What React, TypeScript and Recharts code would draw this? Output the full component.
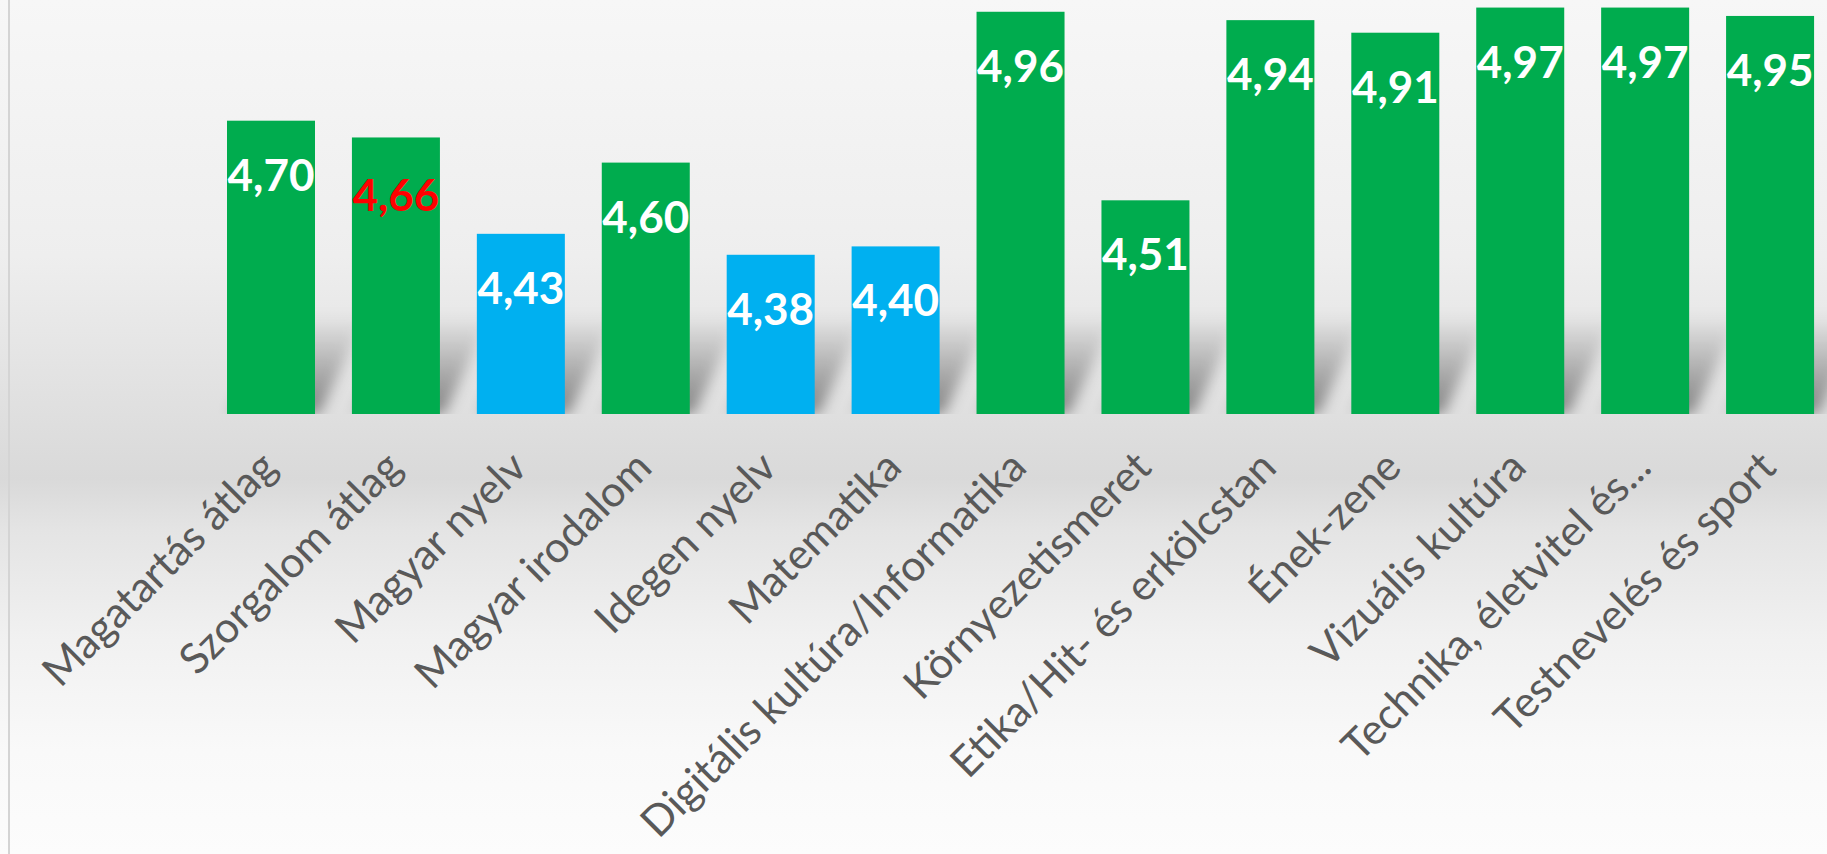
import React from "react";
import { BarChart, Bar, XAxis, YAxis, LabelList, Cell } from "recharts";

const subjects = [
  "Magatartás átlag",
  "Szorgalom átlag",
  "Magyar nyelv",
  "Magyar irodalom",
  "Idegen nyelv",
  "Matematika",
  "Digitális kultúra/Informatika",
  "Környezetismeret",
  "Etika/Hit- és erkölcstan",
  "Ének-zene",
  "Vizuális kultúra",
  "Technika, életvitel és...",
  "Testnevelés és sport",
];

const averages = [4.7, 4.66, 4.43, 4.6, 4.38, 4.4, 4.96, 4.51, 4.94, 4.91, 4.97, 4.97, 4.95];

// subjects drawn in blue, and the one whose label is red
const blueSubjects = ["Magyar nyelv", "Idegen nyelv", "Matematika"];
const redLabelSubject = "Szorgalom átlag";

const yDomain = [4, 5];

const GREEN = "#00AC4E";
const BLUE = "#00B0F0";

const data = subjects.map((name, i) => ({ name, value: averages[i] }));

const fmt = (v: number) => v.toFixed(2).replace(".", ",");

const ShadowBar = (props: any) => {
  const { x, y, width, height, fill, index } = props;
  const base = y + height;
  const sh = 100;
  const skew = 48;
  const gid = "shg" + index;
  const fid = "shf" + index;
  return (
    <g>
      <defs>
        <linearGradient id={gid} x1="0" y1="1" x2="0" y2="0">
          <stop offset="0%" stopColor="#000" stopOpacity={0.42} />
          <stop offset="100%" stopColor="#000" stopOpacity={0} />
        </linearGradient>
        <filter id={fid} x="-50%" y="-50%" width="200%" height="200%">
          <feGaussianBlur stdDeviation="7" />
        </filter>
      </defs>
      <polygon
        points={`${x + 4},${base} ${x + width + 4},${base} ${x + width + 4 + skew},${base - sh} ${x + 4 + skew},${base - sh}`}
        fill={`url(#${gid})`}
        filter={`url(#${fid})`}
      />
      <rect x={x} y={y} width={width} height={height} fill={fill} />
    </g>
  );
};

const ValueLabel = (props: any) => {
  const { x, y, width, value, index } = props;
  const red = subjects[index] === redLabelSubject;
  return (
    <text
      x={x + width / 2}
      y={y + (red ? 74 : 70)}
      textAnchor="middle"
      fill={red ? "#FF0000" : "#FFFFFF"}
      fontFamily="Lato"
      fontWeight={700}
      fontSize={44}
    >
      {fmt(value)}
    </text>
  );
};

const SubjectTick = (props: any) => {
  const { x, y, payload } = props;
  const ax = x - 4;
  const ay = y + 44;
  return (
    <text
      x={ax}
      y={ay}
      textAnchor="end"
      dominantBaseline="central"
      transform={`rotate(-45, ${ax}, ${ay})`}
      fill="#595959"
      fontFamily="Lato"
      fontSize={42.5}
    >
      {payload.value}
    </text>
  );
};

export default function App() {
  return (
    <div
      style={{
        position: "absolute",
        left: 0,
        top: 0,
        width: 1827,
        height: 854,
        overflow: "hidden",
        background:
          "linear-gradient(to bottom, #f7f7f7 0%, #eeeeee 30%, #d9d9d9 56%, #e4e4e4 62%, #f1f1f1 75%, #f9f9f9 88%, #fcfcfc 100%)",
      }}
    >
      <div
        style={{
          position: "absolute",
          left: 8,
          top: 0,
          width: 2,
          height: 854,
          background: "#d4d4d4",
        }}
      />
      <div style={{ position: "absolute", left: 0, top: -10 }}>
        <BarChart
          width={1840}
          height={870}
          data={data}
          margin={{ top: 5, right: 7, left: 209, bottom: 0 }}
          barSize={88}
        >
          <XAxis
            dataKey="name"
            axisLine={false}
            tickLine={false}
            tickSize={0}
            tickMargin={0}
            height={446}
            interval={0}
            tick={<SubjectTick />}
          />
          <YAxis hide domain={yDomain} allowDataOverflow />
          <Bar dataKey="value" isAnimationActive={false} shape={<ShadowBar />}>
            {data.map((d) => (
              <Cell key={d.name} fill={blueSubjects.includes(d.name) ? BLUE : GREEN} />
            ))}
            <LabelList dataKey="value" content={<ValueLabel />} />
          </Bar>
        </BarChart>
      </div>
    </div>
  );
}
